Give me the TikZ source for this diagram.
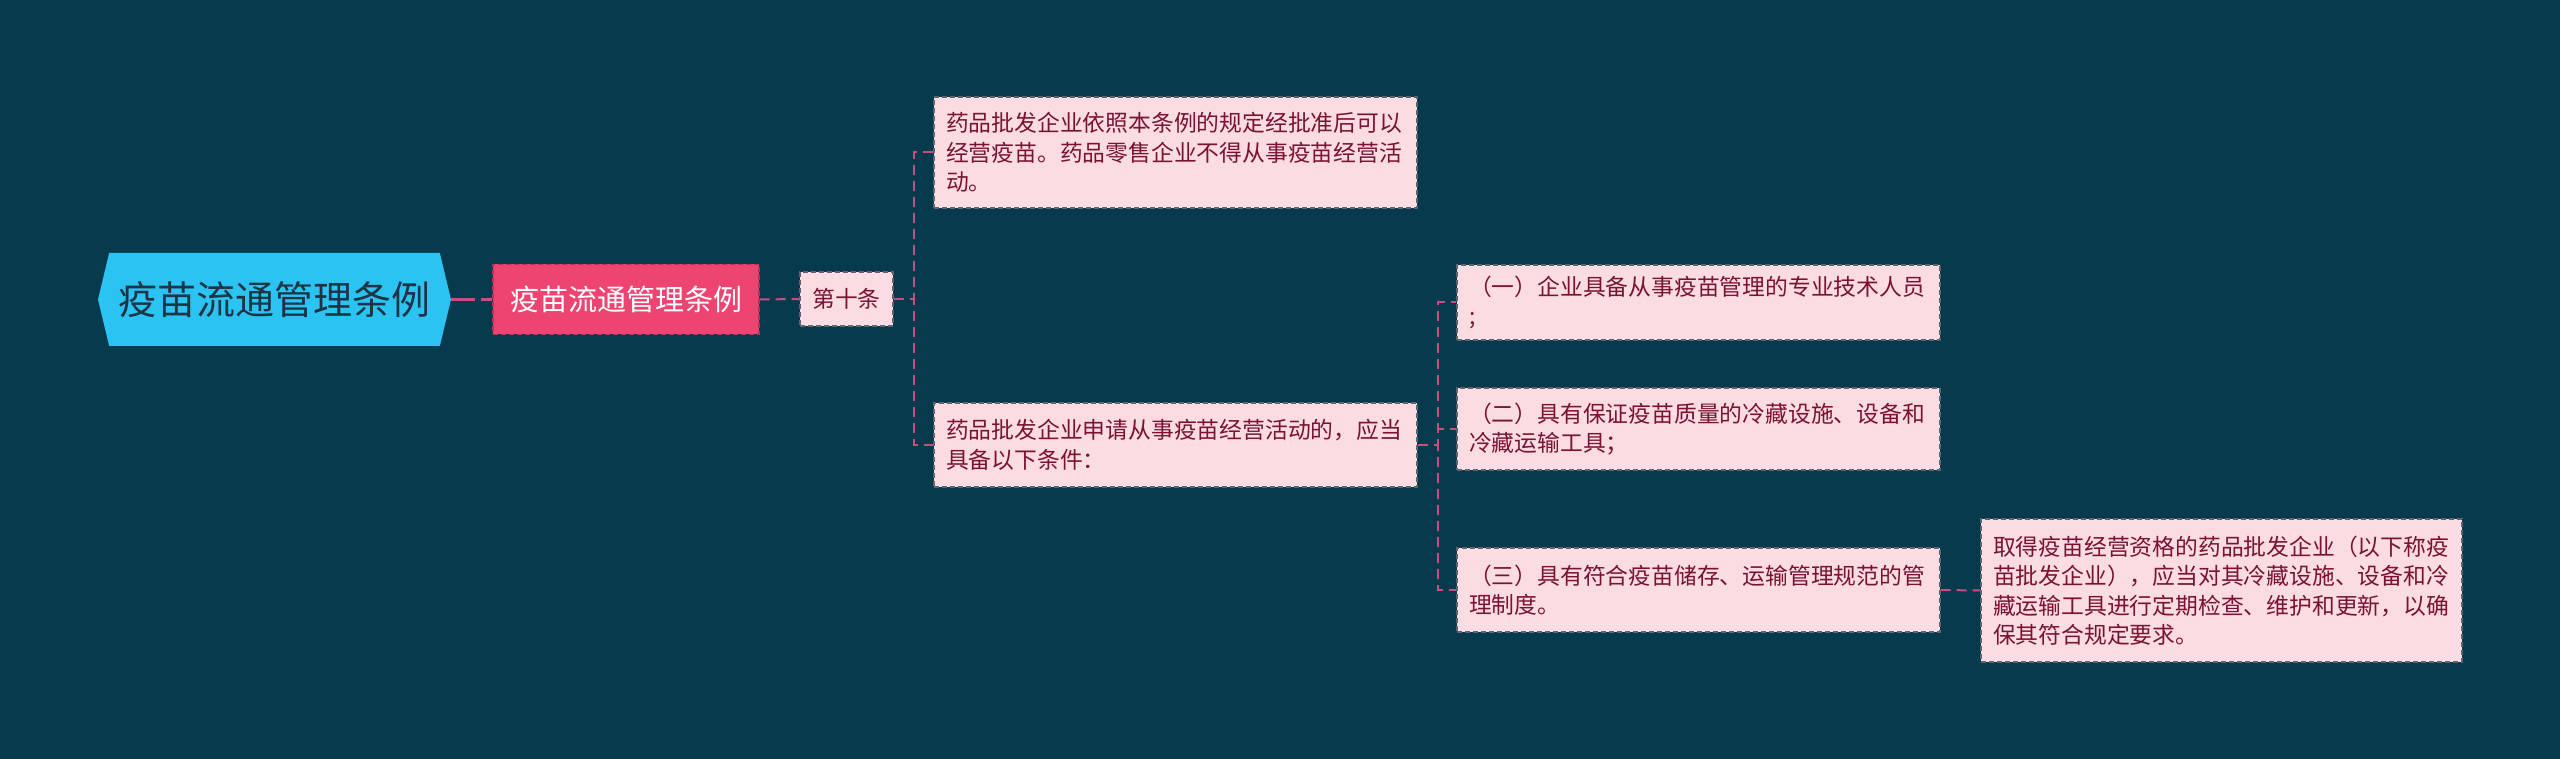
\documentclass[tikz,border=0pt]{standalone}
\usepackage{fontspec}
\setmainfont{Noto Sans CJK SC}
\usetikzlibrary{shapes.symbols, positioning, calc}
\definecolor{bgteal}{HTML}{083A4E}
\definecolor{rootblue}{HTML}{2BC3F1}
\definecolor{roottext}{HTML}{1C3445}
\definecolor{topicred}{HTML}{EE4471}
\definecolor{leafpink}{HTML}{FBDCE3}
\definecolor{leaftext}{HTML}{7A1232}
\definecolor{edgepink}{HTML}{C64F7E}
\definecolor{framegray}{HTML}{5F6470}

\tikzset{
  leafbox/.style={draw=framegray, line width=1.2pt, dash pattern=on 5pt off 3pt,
    fill=leafpink, text=leaftext, font=\fontsize{22.8}{29.5}\selectfont,
    align=left, inner xsep=12pt, text width=459pt, minimum height=#1},
  leafbox/.default=50pt,
  link/.style={draw=edgepink, line width=2pt, dash pattern=on 10pt off 6pt},
}

\begin{document}
\begin{tikzpicture}[x=1pt, y=-1pt]
  \fill[bgteal] (0,0) rectangle (2560,759);
  \useasboundingbox (0,0) rectangle (2560,759);
  % root and first topic
  \node[signal, signal to=west and east, signal pointer angle=153, fill=rootblue,
    text=roottext, font=\fontsize{39}{44}\selectfont, minimum width=353pt,
    minimum height=93pt, inner sep=0pt] (root) at (274.5,299.5) {疫苗流通管理条例};
  \node[fill=topicred, draw=topicred!75!black, line width=1.2pt, dash pattern=on 5pt off 3pt,
    text=white, font=\fontsize{29}{34}\selectfont, minimum width=266pt,
    minimum height=70pt] (topic) at (626,299.5) {疫苗流通管理条例};
  % article ten
  \node[leafbox=54pt, text width=, minimum width=93pt] (art) at (846.5,299) {第十条};
  \node[leafbox=111pt] (artA) at (1175.5,152.5)
    {药品批发企业依照本条例的规定经批准后可以\\经营疫苗。药品零售企业不得从事疫苗经营活\\动。};
  \node[leafbox=84pt] (artB) at (1175.5,445)
    {药品批发企业申请从事疫苗经营活动的，应当\\具备以下条件：};
  % conditions
  \node[leafbox=75pt] (condA) at (1698.5,302.5)
    {（一）企业具备从事疫苗管理的专业技术人员\\;};
  \node[leafbox=82pt] (condB) at (1698.5,429)
    {（二）具有保证疫苗质量的冷藏设施、设备和\\冷藏运输工具；};
  \node[leafbox=84pt] (condC) at (1698.5,590)
    {（三）具有符合疫苗储存、运输管理规范的管\\理制度。};
  \node[leafbox=143pt, text width=457pt] (check) at (2221.5,590.5)
    {取得疫苗经营资格的药品批发企业（以下称疫\\苗批发企业），应当对其冷藏设施、设备和冷\\藏运输工具进行定期检查、维护和更新，以确\\保其符合规定要求。};
  % connectors
  \draw[link, line width=3pt, dash pattern=on 24pt off 6pt] (root.east) -- (topic.west);
  \draw[link] (topic.east) -- (art.west);
  \draw[link] (art.east) -- ++(20,0) |- (artA.west);
  \draw[link] (art.east) -- ++(20,0) |- (artB.west);
  \draw[link] (artB.east) -- ++(20,0) |- (condA.west);
  \draw[link] (artB.east) -- ++(20,0) |- (condB.west);
  \draw[link] (artB.east) -- ++(20,0) |- (condC.west);
  \draw[link] (condC.east) -- (check.west);
\end{tikzpicture}
\end{document}
